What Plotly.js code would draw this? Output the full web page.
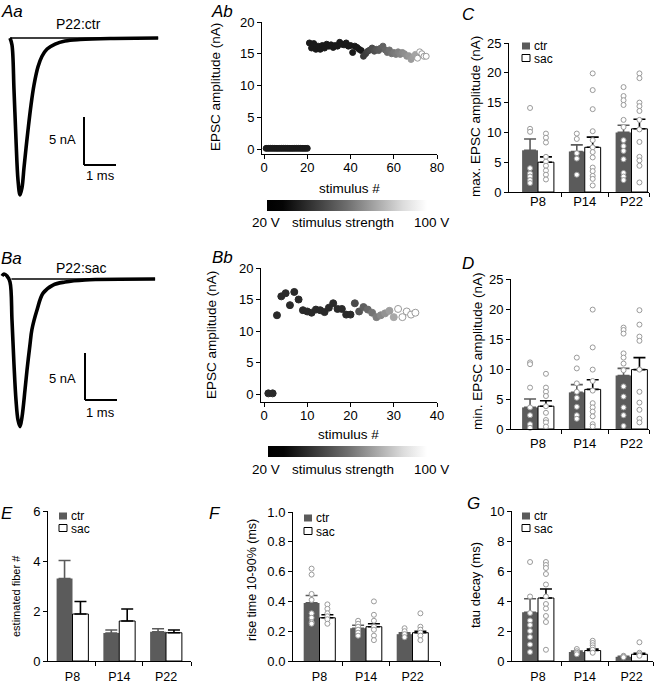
<!DOCTYPE html>
<html><head><meta charset="utf-8">
<script src="https://cdn.plot.ly/plotly-3.0.1.min.js"></script>
<style>html,body{margin:0;padding:0;background:#fff}#chart{width:657px;height:685px}</style>
</head><body><div id="chart"></div>
<script>
// ---------------- DATA ----------------
// Aa: EPSC sweep P22:ctr (time ms, current nA)
const aaTime=[0,0.0625,0.125,0.1875,0.25,0.3125,0.375,0.4375,0.5,0.5625,0.656,0.75,0.875,1.0,1.16,1.41,1.72,2.19,3.13,4.63];
const aaCurrent=[0,-0.73,-5.4,-10.6,-14.8,-16.35,-15.6,-13.5,-11.5,-9.6,-7.0,-4.9,-3.0,-1.9,-1.15,-0.63,-0.31,-0.16,-0.05,0];
// Ba: EPSC sweep P22:sac
const baTime=[-0.094,-0.031,0.0625,0.156,0.219,0.281,0.344,0.406,0.469,0.531,0.625,0.6875,0.78,0.84,1.0,1.19,1.5,1.875,2.5,4.69];
const baCurrent=[0.32,0.53,0.32,-0.32,-4.4,-9.1,-12.9,-15.0,-15.7,-14.7,-11.8,-9.7,-7.0,-5.4,-3.3,-1.5,-0.64,-0.32,-0.1,0];

// Ab: EPSC amplitude vs stimulus #
const abStim=[1,2,3,4,5,6,7,8,9,10,11,12,13,14,15,16,17,18,19,20,21,22,23,24,25,26,27,28,29,30,31,32,33,34,35,36,37,38,39,40,41,42,43,44,45,46,47,48,49,50,51,52,53,54,55,56,57,58,59,60,61,62,63,64,65,66,67,68,69,70,71,72,73,74,75];
const abAmp=[0.1,0.1,0.1,0.1,0.1,0.1,0.1,0.1,0.1,0.1,0.1,0.1,0.1,0.1,0.1,0.1,0.1,0.1,0.1,0.1,
 16.7,15.9,16.6,15.7,16.2,15.7,16.3,15.9,16.5,16.2,16.4,16.0,16.3,16.2,16.8,16.5,16.4,16.7,16.2,16.3,
 15.2,16.2,16.0,15.7,15.5,14.6,15.0,15.4,15.6,15.9,15.4,15.7,15.5,15.9,16.2,15.6,15.2,15.6,15.0,15.2,
 14.9,15.3,14.9,15.2,15.0,14.6,14.7,14.1,14.5,14.9,14.3,15.3,15.0,14.6,14.6];
// Bb
const bbStim=[1,2,3,4,5,6,7,8,9,10,11,12,13,14,15,16,17,18,19,20,21,22,23,24,25,26,27,28,29,30,31,32,33,34,35];
const bbAmp=[0.1,0.1,12.5,15.5,16.0,14.1,16.2,15.0,13.3,13.1,12.9,13.4,13.3,13.0,13.7,14.4,13.5,13.5,12.6,12.6,
 14.4,13.1,13.8,13.4,12.9,12.2,12.5,12.8,13.2,12.2,13.5,12.2,13.1,12.6,12.9];

const groups=['P8','P14','P22'];
// C: max EPSC amplitude (nA)
const cMeanCtr=[7.0,6.8,10.0], cSemCtr=[1.9,1.1,1.2];
const cMeanSac=[5.0,7.5,10.6], cSemSac=[0.9,1.7,1.6];
const cPtsCtr=[[14.1,10.6,10.1,4.0,3.1,2.6,2.0,1.5],[9.8,8.9,6.5,5.6,2.9],[17.6,16.1,15.4,14.6,12.1,10.9,8.7,7.7,6.9,5.5,3.2,2.6,2.0]];
const cPtsSac=[[9.8,9.1,8.3,5.9,5.1,4.4,3.6,2.9,2.1],[19.9,17.1,13.9,10.2,8.7,7.5,6.7,5.8,4.1,3.5,2.7,2.2,1.1],[19.9,19.1,15.0,14.4,13.6,12.1,10.5,8.4,5.9,5.3,4.4,1.6]];
// D: min EPSC amplitude (nA)
const dMeanCtr=[3.6,6.1,8.9], dSemCtr=[1.4,1.3,1.2];
const dMeanSac=[3.8,6.6,9.9], dSemSac=[0.9,1.6,2.0];
const dPtsCtr=[[11.1,10.8,6.9,3.6,2.3,0.8,0.2],[11.9,10.1,7.6,6.2,5.2,3.7,2.3,1.7],[16.9,16.5,15.9,12.6,11.9,10.9,9.8,7.1,5.4,3.6,2.3,0.5]];
const dPtsSac=[[9.2,6.9,6.2,5.5,3.8,2.7,1.5,1.1,0.4],[19.9,13.6,9.9,8.0,6.4,4.3,3.6,2.9,2.1,0.8,0.4],[19.8,17.4,15.4,14.7,9.9,6.2,4.4,3.2,1.7,1.1]];
// E: estimated fiber #
const eMeanCtr=[3.3,1.12,1.17], eSemCtr=[0.72,0.12,0.12];
const eMeanSac=[1.88,1.6,1.13], eSemSac=[0.5,0.48,0.11];
// F: rise time 10-90% (ms)
const fMeanCtr=[0.39,0.22,0.18], fSemCtr=[0.05,0.02,0.01];
const fMeanSac=[0.29,0.23,0.19], fSemSac=[0.02,0.02,0.01];
const fPtsCtr=[[0.62,0.58,0.45,0.41,0.32,0.29,0.26,0.25],[0.27,0.25,0.23,0.21,0.19,0.17],[0.22,0.20,0.18,0.16]];
const fPtsSac=[[0.38,0.35,0.32,0.30,0.28,0.25],[0.40,0.31,0.27,0.23,0.21,0.17,0.14],[0.32,0.23,0.21,0.19,0.17,0.14]];
// G: tau decay (ms)
const gMeanCtr=[3.25,0.6,0.28], gSemCtr=[0.9,0.07,0.03];
const gMeanSac=[4.2,0.7,0.45], gSemSac=[0.6,0.1,0.06];
const gPtsCtr=[[6.6,4.3,3.2,2.7,2.4,2.0,1.6,1.1,0.6],[0.8,0.65,0.55,0.45],[0.35,0.3,0.25]];
const gPtsSac=[[6.6,6.4,6.2,5.8,5.1,4.3,3.8,3.5,3.0,2.6,0.75],[1.35,1.2,1.05,0.9,0.75,0.55],[1.25,0.55,0.45,0.35]];

// ---------------- STYLE / LAYOUT HELPERS ----------------
const W=657,H=685;
const FONT='Liberation Sans, Arial, Helvetica, sans-serif';
const CTR='#5b5b5b', DOT='#9a9a9a';
const TICK=13;
function xd(a,b){return [a/W,b/W];}
function yd(t,b){return [1-b/H,1-t/H];}
function lin(p0,v0,p1,v1,pa,pb){const s=(v1-v0)/(p1-p0);return [v0+(pa-p0)*s,v0+(pb-p0)*s];}
function ax(extra){return Object.assign({showgrid:false,zeroline:false,showline:true,linecolor:'#000',linewidth:1,
  ticks:'outside',ticklen:4,tickwidth:1,tickcolor:'#000',tickfont:{family:FONT,size:TICK,color:'#000'},fixedrange:true},extra);}
function hid(extra){return Object.assign({visible:false,fixedrange:true,showgrid:false,zeroline:false},extra);}
function grayHex(v){const h=Math.round(v).toString(16).padStart(2,'0');return '#'+h+h+h;}

const traces=[], shapes=[], annotations=[];
function ann(text,x,y,o){annotations.push(Object.assign({text:text,xref:'paper',yref:'paper',x:x/W,y:1-y/H,
  showarrow:false,xanchor:'center',yanchor:'middle',font:{family:FONT,size:13,color:'#000'}},o||{}));}
function rectPx(x0,y0,x1,y1,fill,line){shapes.push({type:'rect',xref:'paper',yref:'paper',x0:x0/W,x1:x1/W,y0:1-y1/H,y1:1-y0/H,
  fillcolor:fill,line:{color:line,width:line?1:0}});}

// ---------- Aa / Ba traces ----------
traces.push({x:[aaTime[0],aaTime[aaTime.length-1]],y:[0,0],xaxis:'x',yaxis:'y',mode:'lines',line:{color:'#000',width:1.3},hoverinfo:'skip'});
traces.push({x:aaTime,y:aaCurrent,xaxis:'x',yaxis:'y',mode:'lines',line:{color:'#000',width:3.6,shape:'spline'},hoverinfo:'skip'});
traces.push({x:[0.2,baTime[baTime.length-1]],y:[0,0],xaxis:'x2',yaxis:'y2',mode:'lines',line:{color:'#000',width:1.3},hoverinfo:'skip'});
traces.push({x:baTime,y:baCurrent,xaxis:'x2',yaxis:'y2',mode:'lines',line:{color:'#000',width:3.6,shape:'spline'},hoverinfo:'skip'});
function scaleBar(xr,yr,t0,i0){
  shapes.push({type:'line',xref:xr,yref:yr,x0:t0,x1:t0,y0:i0,y1:i0+5,line:{color:'#000',width:2}});
  shapes.push({type:'line',xref:xr,yref:yr,x0:t0,x1:t0+1,y0:i0,y1:i0,line:{color:'#000',width:2}});
}
scaleBar('x','y',2.3125,-13.23);
scaleBar('x2','y2',2.5,-12.87);

// ---------- Ab / Bb scatter ----------
const CB=[[0,'#000000'],[0.1,'#050505'],[0.5,'#6e6e6e'],[0.85,'#dcdcdc'],[1,'#ffffff']];
function abFill(n){if(n>=71)return '#ffffff'; if(n<=45)return '#1a1a1a'; return grayHex(0x3a+(n-46)*(0xa4-0x3a)/24);}
function abLine(n){return n>=71?'#9a9a9a':abFill(n);}
function bbFill(n){if(n>=31)return '#ffffff'; if(n<=20)return '#2a2a2a'; return grayHex(0x4a+(n-21)*(0xa8-0x4a)/9);}
function bbLine(n){return n>=31?'#9a9a9a':bbFill(n);}
traces.push({x:abStim,y:abAmp,xaxis:'x3',yaxis:'y3',mode:'markers',hoverinfo:'skip',
  marker:{size:6,color:abStim.map(abFill),line:{color:abStim.map(abLine),width:1}}});
traces.push({x:bbStim,y:bbAmp,xaxis:'x4',yaxis:'y4',mode:'markers',hoverinfo:'skip',
  marker:{size:7,color:bbStim.map(bbFill),line:{color:bbStim.map(bbLine),width:1}}});
function cbTrace(xa,ya,x0,x1,ytop){
  traces.push({x:[-1000],y:[-1000],xaxis:xa,yaxis:ya,mode:'markers',hoverinfo:'skip',
    marker:{size:1,color:[0],cmin:0,cmax:1,colorscale:CB,showscale:true,
      colorbar:{orientation:'h',x:x0/W,xanchor:'left',y:1-ytop/H,yanchor:'top',len:x1-x0,lenmode:'pixels',
        thickness:11,thicknessmode:'pixels',outlinewidth:0,showticklabels:false,ticks:'',xpad:0,ypad:0}}});
}
cbTrace('x3','y3',267,427,200);
cbTrace('x4','y4',268,427,446);

// ---------- bar panels ----------
const OFF=0.17, BW=0.34, GX=[1,2,3];
function barPanel(xa,ya,mC,sC,mS,sS,pC,pS){
  traces.push({type:'bar',x:GX.map(g=>g-OFF),y:mC,width:BW,xaxis:xa,yaxis:ya,hoverinfo:'skip',
    marker:{color:CTR,line:{width:0}},
    error_y:{type:'data',symmetric:false,array:sC,arrayminus:[0,0,0],color:CTR,thickness:1.6,width:6}});
  traces.push({type:'bar',x:GX.map(g=>g+OFF),y:mS,width:BW,xaxis:xa,yaxis:ya,hoverinfo:'skip',
    marker:{color:'#ffffff',line:{color:'#000',width:1}},
    error_y:{type:'data',symmetric:false,array:sS,arrayminus:[0,0,0],color:'#000',thickness:1.6,width:6}});
  [[pC,-OFF],[pS,OFF]].forEach(([pts,o])=>{
    if(!pts)return;
    const xs=[],ys=[];
    pts.forEach((arr,i)=>arr.forEach(v=>{xs.push(GX[i]+o);ys.push(v);}));
    traces.push({x:xs,y:ys,xaxis:xa,yaxis:ya,mode:'markers',hoverinfo:'skip',cliponaxis:false,
      marker:{size:5,color:'#ffffff',line:{color:DOT,width:1}}});
  });
}
barPanel('x5','y5',cMeanCtr,cSemCtr,cMeanSac,cSemSac,cPtsCtr,cPtsSac);
barPanel('x6','y6',dMeanCtr,dSemCtr,dMeanSac,dSemSac,dPtsCtr,dPtsSac);
barPanel('x7','y7',eMeanCtr,eSemCtr,eMeanSac,eSemSac,null,null);
barPanel('x8','y8',fMeanCtr,fSemCtr,fMeanSac,fSemSac,fPtsCtr,fPtsSac);
barPanel('x9','y9',gMeanCtr,gSemCtr,gMeanSac,gSemSac,gPtsCtr,gPtsSac);

function catAxis(dom,range,anchor,standoff,fs){
  return ax({domain:dom,range:range,anchor:anchor,tickmode:'array',tickvals:GX,ticktext:groups,ticks:'',ticklabelstandoff:standoff,
    tickfont:{family:FONT,size:fs||TICK,color:'#000'},
    minor:{tickmode:'array',tickvals:[1.5,2.5,range[1]],ticks:'outside',ticklen:4,tickcolor:'#000',tickwidth:1,showgrid:false}});
}

// ---------- legends ----------
function legend(x,y1,y2){
  rectPx(x,y1-3.5,x+8,y1+3.5,CTR,null);
  rectPx(x,y2-3.5,x+8,y2+3.5,'#ffffff','#000');
  const f={family:FONT,size:12,color:'#000'};
  ann('ctr',x+11,y1-0.5,{xanchor:'left',font:f,borderpad:0});
  ann('sac',x+11,y2+1,{xanchor:'left',font:f,borderpad:0});
}
legend(522,46,58);
legend(59,516,528);
legend(304,518,531);
legend(522,516,528);

// ---------- text ----------
const LET={family:FONT,size:17,color:'#000'};
ann('<i>Aa</i>',12,12,{font:LET});
ann('<i>Ba</i>',11,258,{font:LET});
ann('<i>Ab</i>',222,12,{font:LET});
ann('<i>Bb</i>',222,257,{font:LET});
ann('<i>C</i>',468,15,{font:LET});
ann('<i>D</i>',468,263,{font:LET});
ann('<i>E</i>',7,513,{font:LET});
ann('<i>F</i>',215,513,{font:LET});
ann('<i>G</i>',473,503,{font:LET});
ann('P22:ctr',78,24,{font:{family:FONT,size:14,color:'#000'}});
ann('P22:sac',81,268,{font:{family:FONT,size:14,color:'#000'}});
ann('5 nA',78,139,{xanchor:'right'});
ann('1 ms',100,176);
ann('5 nA',78,378,{xanchor:'right'});
ann('1 ms',100,413);
ann('stimulus #',349,189,{font:{family:FONT,size:13.5,color:'#000'}});
ann('stimulus #',348,434,{font:{family:FONT,size:13.5,color:'#000'}});
[[222],[469]].forEach(([y])=>{
  ann('20 V',266,y,{font:{family:FONT,size:13.5,color:'#000'}});
  ann('stimulus strength',343,y,{font:{family:FONT,size:13.5,color:'#000'}});
  ann('100 V',431,y,{font:{family:FONT,size:13.5,color:'#000'}});
});
function ytitle(t,x,y,s){ann(t,x,y,{textangle:-90,font:{family:FONT,size:s,color:'#000'}});}
ytitle('EPSC amplitude (nA)',215,87,13.5);
ytitle('EPSC amplitude (nA)',212,335,13.5);
ytitle('max. EPSC amplitude (nA)',475,117,13.5);
ytitle('min. EPSC amplitude (nA)',477,351,13.5);
ytitle('estimated fiber #',16,596,11);
ytitle('rise time 10-90% (ms)',252,580,12.5);
ytitle('tau decay (ms)',475,585,13);

// ---------- layout ----------
const layout={width:W,height:H,margin:{l:0,r:0,t:0,b:0},paper_bgcolor:'#fff',plot_bgcolor:'rgba(0,0,0,0)',
  showlegend:false,barmode:'overlay',font:{family:FONT,color:'#000'},
  xaxis:hid({domain:xd(0,160),range:lin(10,0,42,1,0,160),anchor:'y'}),
  yaxis:hid({domain:yd(20,210),range:lin(38,0,86,-5,210,20),anchor:'x'}),
  xaxis2:hid({domain:xd(0,160),range:lin(5,0,37,1,0,160),anchor:'y2'}),
  yaxis2:hid({domain:yd(255,440),range:lin(279,0,326,-5,440,255),anchor:'x2'}),
  xaxis3:ax({domain:xd(262,437),range:lin(264,0,437,80,262,437),anchor:'y3',tickmode:'linear',tick0:0,dtick:20,ticklabelstandoff:-3}),
  yaxis3:ax({domain:yd(22,154),range:lin(149,0,22,20,154,22),anchor:'x3',tickmode:'linear',tick0:0,dtick:5}),
  xaxis4:ax({domain:xd(261,437),range:lin(264,0,437,40,261,437),anchor:'y4',tickmode:'linear',tick0:0,dtick:10,ticklabelstandoff:-3}),
  yaxis4:ax({domain:yd(268,402),range:lin(394,0,268,20,402,268),anchor:'x4',tickmode:'linear',tick0:0,dtick:5}),
  xaxis5:catAxis(xd(509,649),lin(538,1,584.75,2,509,649),'y5',-3),
  yaxis5:ax({domain:yd(43,192),range:[0,25],anchor:'x5',tickmode:'linear',tick0:0,dtick:5}),
  xaxis6:catAxis(xd(511,649),lin(538,1,584.75,2,511,649),'y6',2),
  yaxis6:ax({domain:yd(279,429),range:[0,25],anchor:'x6',tickmode:'linear',tick0:0,dtick:5}),
  xaxis7:catAxis(xd(48,191),lin(72.5,1,119.25,2,48,191),'y7',4,12.5),
  yaxis7:ax({domain:yd(511,661),range:[0,6],anchor:'x7',tickmode:'linear',tick0:0,dtick:2}),
  xaxis8:catAxis(xd(293,440),lin(319.5,1,366,2,293,440),'y8',4,12.5),
  yaxis8:ax({domain:yd(512,661),range:[0,1],anchor:'x8',tickmode:'linear',tick0:0,dtick:0.2,tickformat:'.1f'}),
  xaxis9:catAxis(xd(512,653),lin(538,1,584.75,2,512,653),'y9',4,12.5),
  yaxis9:ax({domain:yd(511,661),range:[0,10],anchor:'x9',tickmode:'linear',tick0:0,dtick:2}),
  shapes:shapes,annotations:annotations};

Plotly.newPlot('chart',traces,layout,{staticPlot:true,displayModeBar:false});
</script></body></html>
